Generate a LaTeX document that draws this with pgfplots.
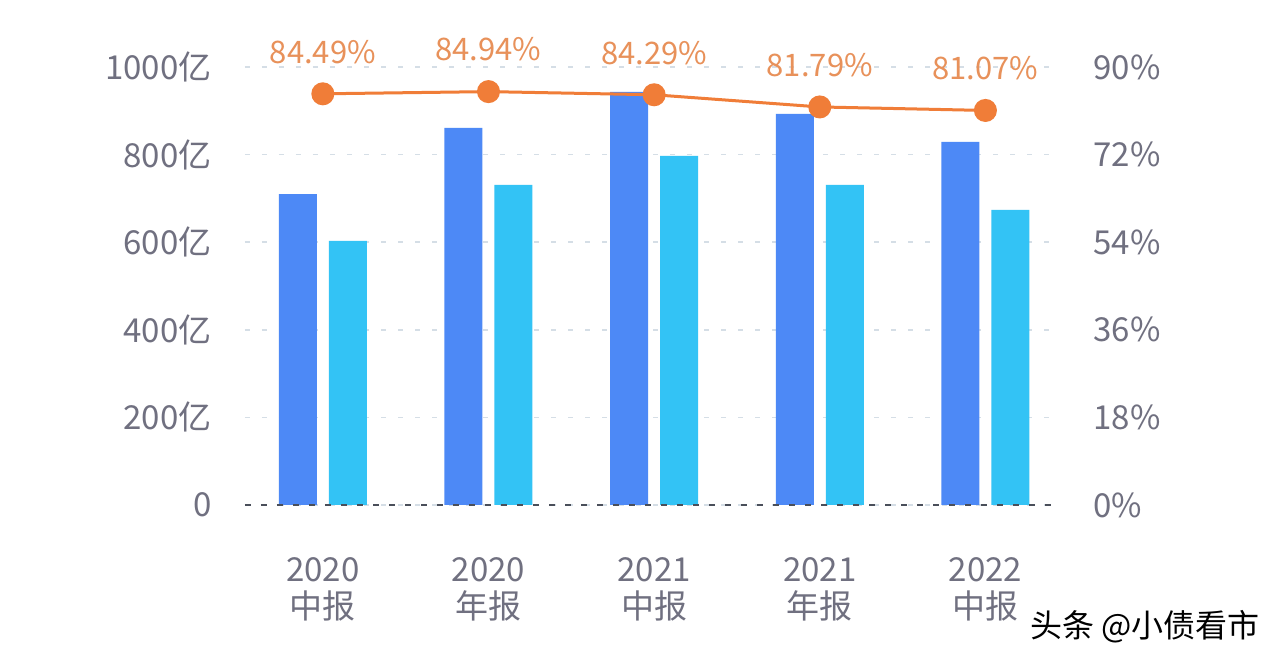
\documentclass[border=0pt]{standalone}
\usepackage{pgfplots}
\pgfplotsset{compat=1.18}
\usepackage{fontspec}
\setmainfont{Noto Sans CJK SC}
\definecolor{barA}{HTML}{4D89F6}
\definecolor{barB}{HTML}{33C3F5}
\definecolor{lineO}{HTML}{F07D38}
\definecolor{labO}{HTML}{E8915A}
\definecolor{tickG}{HTML}{707080}
\definecolor{gridG}{HTML}{D5DEE6}
\definecolor{baseG}{HTML}{4A4F5A}
\begin{document}
\begin{tikzpicture}
\path[fill=white] (0,0) rectangle (641pt,331pt);
\begin{axis}[
  at={(122.5pt,78.5pt)}, anchor=south west,
  scale only axis, width=405pt, height=219pt,
  xmin=-0.47, xmax=4.42, ymin=0, ymax=1000, clip=false,
  axis line style={draw=none}, tick style={draw=none},
  ytick={0,200,400,600,800,1000},
  yticklabels={0,200亿,400亿,600亿,800亿,1000亿},
  yticklabel style={font=\fontsize{16.5}{18}\selectfont, text=tickG, inner sep=0pt, xshift=-16.5pt},
  xtick={0,1,2,3,4},
  xticklabels={{2020\\中报},{2020\\年报},{2021\\中报},{2021\\年报},{2022\\中报}},
  xticklabel style={font=\fontsize{16.5}{18.5}\selectfont, text=tickG, align=center, inner sep=0pt, yshift=-22pt},
  ymajorgrids, grid style={gridG, line width=0.8pt, dash pattern=on 2.5pt off 6pt},
  ybar, bar width=19pt,
]
\addplot[fill=barA, draw=none, bar shift=-12.5pt] coordinates {(0,710) (1,861) (2,943) (3,893) (4,829)};
\addplot[fill=barB, draw=none, bar shift=12.5pt] coordinates {(0,603) (1,731) (2,797) (3,731) (4,674)};
\draw[baseG, line width=1.4pt, dash pattern=on 3pt off 5pt] (axis cs:-0.47,0) -- (axis cs:4.42,0);
\end{axis}
\begin{axis}[
  at={(122.5pt,78.5pt)}, anchor=south west,
  scale only axis, width=405pt, height=219pt,
  xmin=-0.47, xmax=4.42, ymin=0, ymax=90,
  axis line style={draw=none}, tick style={draw=none},
  axis y line*=right, hide x axis,
  ytick={0,18,36,54,72,90},
  yticklabels={0\%,18\%,36\%,54\%,72\%,90\%},
  yticklabel style={font=\fontsize{16.5}{18}\selectfont, text=tickG, inner sep=0pt, xshift=19pt},
]
\addplot[lineO, line width=1.5pt, mark=*, mark size=5pt, mark options={fill=lineO, draw=lineO},
  point meta=explicit symbolic, nodes near coords,
  nodes near coords style={font=\fontsize{15.5}{17}\selectfont, text=labO, anchor=center, yshift=21pt}]
  coordinates {(0,84.49)[84.49\%] (1,84.94)[84.94\%] (2,84.29)[84.29\%] (3,81.79)[81.79\%] (4,81.07)[81.07\%]};
\end{axis}
\node[anchor=west, inner sep=0pt, font=\fontsize{16}{17}\selectfont] at (515pt,17.5pt) {头条 @小债看市};
\end{tikzpicture}
\end{document}
